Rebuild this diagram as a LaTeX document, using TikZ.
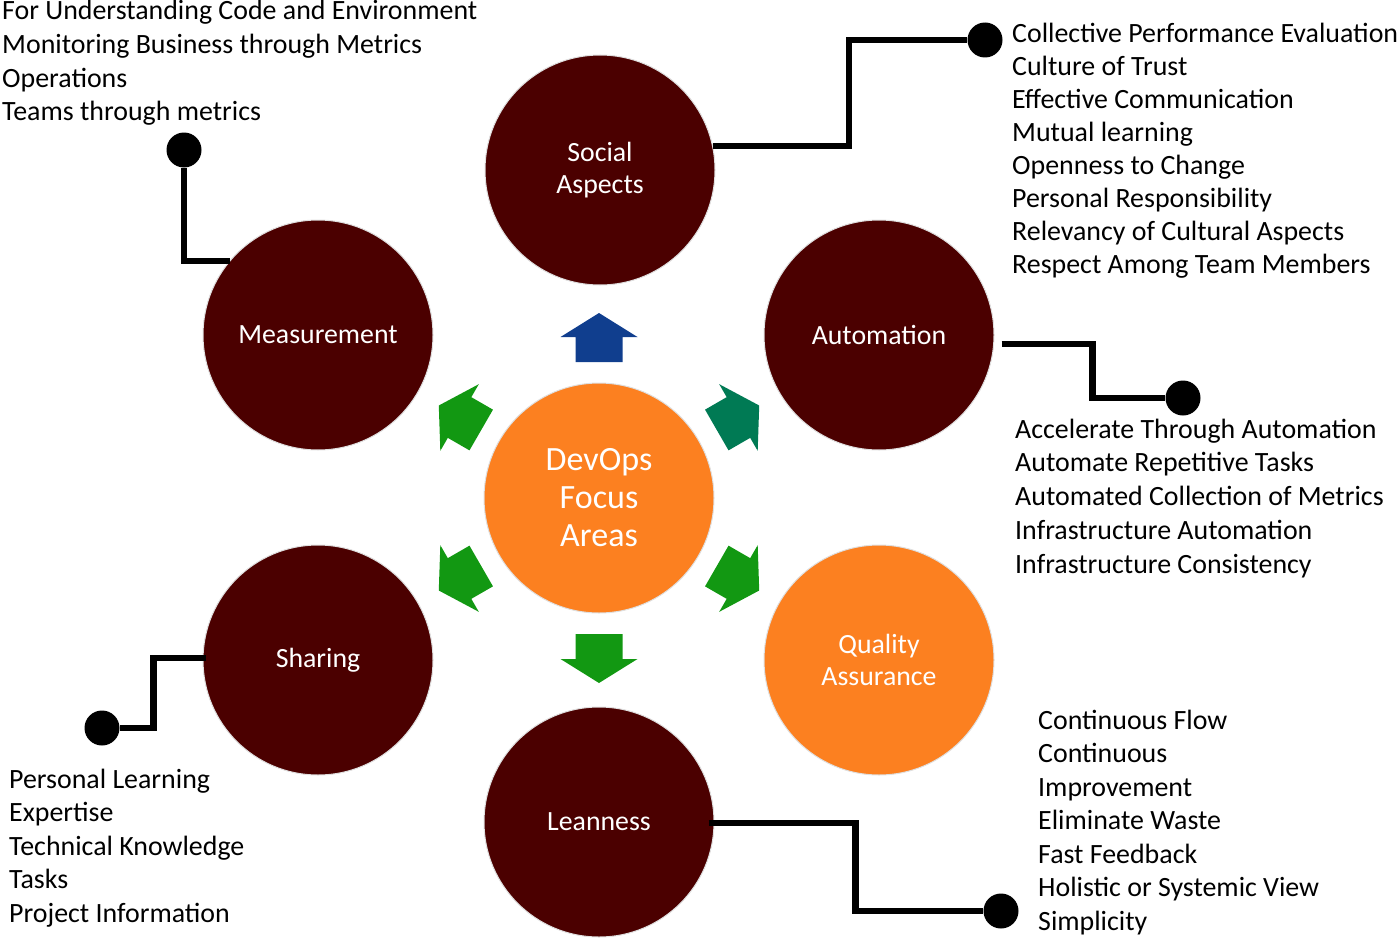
\documentclass[tikz,border=0pt]{standalone}
\usepackage{fontspec}
\setmainfont{Carlito}
\usetikzlibrary{calc}
\definecolor{areadark}{RGB}{75,0,0}
\definecolor{areaorange}{RGB}{252,128,32}
\definecolor{arrowblue}{RGB}{16,62,142}
\definecolor{arrowgreen}{RGB}{18,152,18}
\definecolor{arrowteal}{RGB}{0,122,84}

\begin{document}
\begin{tikzpicture}[x=1pt,y=-1pt,
  area/.style={circle,draw=gray!25,line width=1pt,fill=areadark,minimum size=230pt,inner sep=0pt,align=center,text=white,font=\fontsize{27.8}{32}\selectfont},
  link/.style={line width=6.5pt},
  dot/.style={circle,fill=black,minimum size=35pt,inner sep=0pt},
  items/.style={anchor=base west,align=left,inner sep=0pt,font=\fontsize{27.9}{33.5}\selectfont},
  focusarrow/.pic={\fill[pic actions] (136,-23.5) -- (161,-23.5) -- (161,-38.5) -- (185,0) -- (161,38.5) -- (161,23.5) -- (136,23.5) -- cycle;}
]
\useasboundingbox (0,0) rectangle (1399,942);

% Focus areas
\node[area,fill=areaorange,font=\fontsize{34}{38}\selectfont] (core) at (599,498) {DevOps\\Focus\\Areas};
\node[area] (soc)   at (600,170) {Social\\Aspects};
\node[area] (meas)  at (318,335) {Measurement};
\node[area] (auto)  at (879,335) {Automation};
\node[area] (share) at (318,660) {Sharing};
\node[area,fill=areaorange] (qa) at (879,660) {Quality\\Assurance};
\node[area] (lean)  at (599,822) {Leanness};

% Arrows from the core
\foreach \ang/\col in {90/arrowblue,30/arrowteal,150/arrowgreen,210/arrowgreen,270/arrowgreen,330/arrowgreen}
  \pic[rotate=\ang,fill=\col] at (core.center) {focusarrow};

% End dots
\node[dot] (mdot)  at (184,150)  {};
\node[dot] (sdot)  at (985,40)   {};
\node[dot] (adot)  at (1183,398) {};
\node[dot] (ldot)  at (1001,911) {};
\node[dot] (shdot) at (102,728)  {};

% Links
\draw[link] (mdot) |- (meas.140);
\draw[link] (soc.12) -- ++(136,0) |- (sdot);
\draw[link] ([shift={(7,9)}]auto.east) -- ++(91,0) |- (adot);
\draw[link] ([shift={(-6,1)}]lean.east) -- ++(147,0) |- (ldot);
\draw[link] ([shift={(3,-2)}]share.west) -- ++(-52,0) |- (shdot);

% Lists (anchored at the last line)
\node[items] (measlist) at (2,120.5) {For Understanding Code and Environment\\Monitoring Business through Metrics\\Operations\\Teams through metrics};
\node[items,font=\fontsize{27.9}{33}\selectfont] (soclist) at (1012,273) {Collective Performance Evaluation\\Culture of Trust\\Effective Communication\\Mutual learning\\Openness to Change\\Personal Responsibility\\Relevancy of Cultural Aspects\\Respect Among Team Members};
\node[items,font=\fontsize{27.9}{33.75}\selectfont] (autolist) at (1015,573) {Accelerate Through Automation\\Automate Repetitive Tasks\\Automated Collection of Metrics\\Infrastructure Automation\\Infrastructure Consistency};
\node[items] (leanlist) at (1038,930) {Continuous Flow\\Continuous\\Improvement\\Eliminate Waste\\Fast Feedback\\Holistic or Systemic View\\Simplicity};
\node[items] (sharelist) at (9,922) {Personal Learning\\Expertise\\Technical Knowledge\\Tasks\\Project Information};
\end{tikzpicture}
\end{document}
